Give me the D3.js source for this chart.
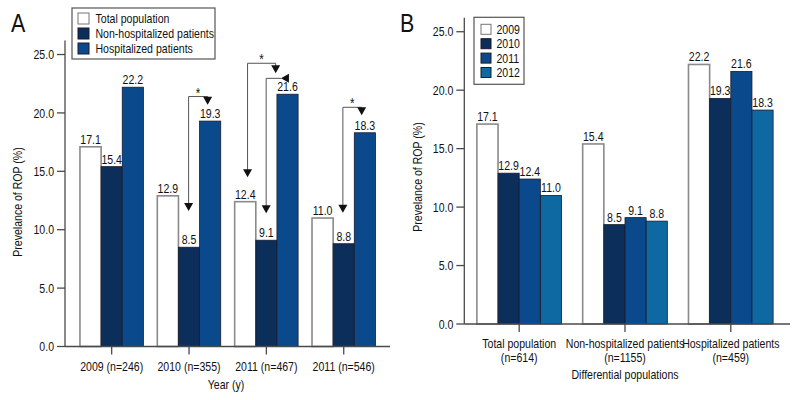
<!DOCTYPE html>
<html><head><meta charset="utf-8">
<script src="https://cdn.jsdelivr.net/npm/d3@7"></script>
<style>
body{margin:0;background:#fff;}
text{font-family:'Liberation Sans',Arial,sans-serif;fill:#111;}
</style></head>
<body><svg id="c" width="800" height="400"></svg>
<script>
// ---------- DATA ----------
const yearsA = ["2009 (n=246)", "2010 (n=355)", "2011 (n=467)", "2011 (n=546)"];
const seriesA = ["Total population", "Non-hospitalized patients", "Hospitalized patients"];
const totalPop = [17.1, 12.9, 12.4, 11.0];
const nonHosp = [15.4, 8.5, 9.1, 8.8];
const hosp = [22.2, 19.3, 21.6, 18.3];

const groupsB = [["Total population", "(n=614)"], ["Non-hospitalized patients", "(n=1155)"], ["Hospitalized patients", "(n=459)"]];
const seriesB = ["2009", "2010", "2011", "2012"];
const v2009 = [17.1, 15.4, 22.2];
const v2010 = [12.9, 8.5, 19.3];
const v2011 = [12.4, 9.1, 21.6];
const v2012 = [11.0, 8.8, 18.3];

const yTicks = [0, 5, 10, 15, 20, 25];

// significance brackets in panel A: group, from/to bar positions (in bar units), top value, arrow tip values
const sigBrackets = [
  {g: 1, from: 1.48, to: 2.38, top: 21.4, leftTip: 11.6, rightTip: 20.7, star: true, rightDir: "down"},
  {g: 2, from: 0.61, to: 1.94, top: 24.25, leftTip: 14.5, rightTip: 23.4, star: true, rightDir: "down"},
  {g: 2, from: 1.49, to: 2.19, top: 22.96, leftTip: 11.4, rightTip: 22.96, star: false, rightDir: "left"},
  {g: 3, from: 1.46, to: 2.35, top: 20.48, leftTip: 11.45, rightTip: 19.8, star: true, rightDir: "down"}
];

const colorsA = ["#ffffff", "#0c2e5b", "#0a4a8c"];
const colorsB = ["#ffffff", "#0c2e5b", "#0a4a8c", "#0e69a3"];

// ---------- DRAW ----------
const svg = d3.select("#c");
const axisColor = "#4a4a4a";
const FS = 12.8;

// condensed text: measure a reference string and squeeze horizontally
const probe = svg.append("text").attr("font-size", FS).text("Total population");
const S = 74 / probe.node().getComputedTextLength();
probe.remove();

function txt(g, x, y, str, opt = {}) {
  const size = opt.size || FS;
  const rot = opt.rotate ? ` rotate(${opt.rotate})` : "";
  return g.append("text").attr("transform", `translate(${x},${y})${rot} scale(${S},1)`)
    .attr("text-anchor", opt.anchor || "start").attr("font-size", size).text(str);
}

function yAxis(g, y, x0) {
  g.append("line").attr("x1", x0).attr("x2", x0).attr("y1", y(0)).attr("y2", y(y.domain()[1]))
    .attr("stroke", axisColor).attr("stroke-width", 1.3);
  yTicks.forEach(t => {
    g.append("line").attr("x1", x0 - 8).attr("x2", x0).attr("y1", y(t)).attr("y2", y(t))
      .attr("stroke", axisColor).attr("stroke-width", 1.3);
    txt(g, x0 - 11, y(t) + 4.7, t.toFixed(1), {anchor: "end"});
  });
}

// Panel A
const yA = d3.scaleLinear().domain([0, 26.2]).range([346.5, 40.5]);
const xA = d3.scaleBand().domain(yearsA).range([73, 382.4]).paddingInner(0.18).paddingOuter(0.09);
const xAin = d3.scaleBand().domain(d3.range(3)).range([0, xA.bandwidth()]);
const valsA = [totalPop, nonHosp, hosp];
const gA = svg.append("g");

yearsA.forEach((cat, i) => {
  valsA.forEach((arr, s) => {
    const x = xA(cat) + xAin(s), v = arr[i];
    gA.append("rect").attr("x", x).attr("y", yA(v)).attr("width", xAin.bandwidth()).attr("height", yA(0) - yA(v))
      .attr("fill", colorsA[s]).attr("stroke", s === 0 ? "#8a8a8a" : "#1a1a2a").attr("stroke-width", s === 0 ? 1.6 : 0.8);
    txt(gA, x + xAin.bandwidth() / 2, yA(v) - 3, v.toFixed(1), {anchor: "middle"});
  });
});
// x axis A
gA.append("line").attr("x1", 65).attr("x2", 390).attr("y1", yA(0)).attr("y2", yA(0)).attr("stroke", axisColor).attr("stroke-width", 1.3);
yearsA.forEach(cat => {
  const cx = xA(cat) + xA.bandwidth() / 2;
  gA.append("line").attr("x1", cx).attr("x2", cx).attr("y1", yA(0)).attr("y2", yA(0) + 8).attr("stroke", axisColor).attr("stroke-width", 1.3);
  txt(gA, cx, 370.5, cat, {anchor: "middle"});
});
yAxis(gA, yA, 65);
txt(gA, 226, 388.5, "Year (y)", {anchor: "middle"});
txt(gA, 22, 202, "Prevelance of ROP (%)", {anchor: "middle", rotate: -90});
txt(gA, 11, 32, "A", {size: 26});

// brackets
const bw = xAin.bandwidth();
function triDown(g, x, tipY) {
  g.append("path").attr("d", `M${x - 4.5},${tipY - 8}L${x + 4.5},${tipY - 8}L${x},${tipY}Z`).attr("fill", "#111");
}
function triLeft(g, tipX, y) {
  g.append("path").attr("d", `M${tipX + 8},${y - 4.5}L${tipX + 8},${y + 4.5}L${tipX},${y}Z`).attr("fill", "#111");
}
sigBrackets.forEach(b => {
  const g0 = xA(yearsA[b.g]);
  const x1 = g0 + b.from * bw, x2 = g0 + b.to * bw, yt = yA(b.top);
  gA.append("path").attr("d", `M${x1},${yA(b.leftTip) - 6}V${yt}H${x2}` + (b.rightDir === "down" ? `V${yA(b.rightTip) - 6}` : ""))
    .attr("fill", "none").attr("stroke", "#555").attr("stroke-width", 1);
  triDown(gA, x1, yA(b.leftTip));
  if (b.rightDir === "down") triDown(gA, x2, yA(b.rightTip)); else triLeft(gA, x2, yt);
  if (b.star) txt(gA, (x1 + x2) / 2, yt + 1, "*", {anchor: "middle", size: 14});
});

// legend A
gA.append("rect").attr("x", 72).attr("y", 8).attr("width", 143).attr("height", 51).attr("fill", "#fff").attr("stroke", "#555").attr("stroke-width", 1.2);
seriesA.forEach((s, i) => {
  const cy = 18.5 + i * 15;
  gA.append("rect").attr("x", 78).attr("y", cy - 5.5).attr("width", 11).attr("height", 11)
    .attr("fill", colorsA[i]).attr("stroke", i === 0 ? "#777" : "#1a1a2a").attr("stroke-width", 1);
  txt(gA, 95.5, cy + 4.7, s);
});

// Panel B
const yB = d3.scaleLinear().domain([0, 26.2]).range([324, 17.7]);
const xB = d3.scaleBand().domain(groupsB.map(d => d[0])).range([466.3, 783.7]).paddingInner(0.2).paddingOuter(0.1);
const xBin = d3.scaleBand().domain(d3.range(4)).range([0, xB.bandwidth()]);
const valsB = [v2009, v2010, v2011, v2012];
const gB = svg.append("g");
groupsB.forEach((grp, i) => {
  valsB.forEach((arr, s) => {
    const x = xB(grp[0]) + xBin(s), v = arr[i];
    gB.append("rect").attr("x", x).attr("y", yB(v)).attr("width", xBin.bandwidth()).attr("height", yB(0) - yB(v))
      .attr("fill", colorsB[s]).attr("stroke", s === 0 ? "#8a8a8a" : "#1a1a2a").attr("stroke-width", s === 0 ? 1.6 : 0.8);
    txt(gB, x + xBin.bandwidth() / 2, yB(v) - 3, v.toFixed(1), {anchor: "middle"});
  });
});
gB.append("line").attr("x1", 464.3).attr("x2", 790).attr("y1", yB(0)).attr("y2", yB(0)).attr("stroke", axisColor).attr("stroke-width", 1.3);
groupsB.forEach(grp => {
  const cx = xB(grp[0]) + xB.bandwidth() / 2;
  gB.append("line").attr("x1", cx).attr("x2", cx).attr("y1", yB(0)).attr("y2", yB(0) + 8).attr("stroke", axisColor).attr("stroke-width", 1.3);
  txt(gB, cx, 347.5, grp[0], {anchor: "middle"});
  txt(gB, cx, 362, grp[1], {anchor: "middle"});
});
yAxis(gB, yB, 464.3);
txt(gB, 625, 379, "Differential populations", {anchor: "middle"});
txt(gB, 422, 177, "Prevelance of ROP (%)", {anchor: "middle", rotate: -90});
txt(gB, 400, 32, "B", {size: 26});

gB.append("rect").attr("x", 474).attr("y", 17.3).attr("width", 50).attr("height", 67).attr("fill", "#fff").attr("stroke", "#555").attr("stroke-width", 1.2);
seriesB.forEach((s, i) => {
  const cy = 29.3 + i * 14.4;
  gB.append("rect").attr("x", 481).attr("y", cy - 5).attr("width", 10).attr("height", 10)
    .attr("fill", colorsB[i]).attr("stroke", i === 0 ? "#777" : "#1a1a2a").attr("stroke-width", 1);
  txt(gB, 496.5, cy + 4.7, s);
});
</script></body></html>
